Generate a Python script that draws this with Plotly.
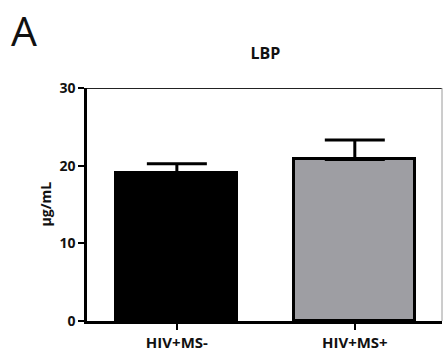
import plotly.graph_objects as go

# Group means and SEM (µg/mL)
groups = ["HIV+MS-", "HIV+MS+"]
means = [19.1, 20.8]
sem = [1.15, 2.5]
fill_colors = ["#000000", "#9e9ea3"]

y_ticks = [0, 10, 20, 30]

W, H = 443, 355
L, R, T, B = 87, 1, 88, 34
plot_w = W - L - R
plot_h = H - T - B

font_family = "Open Sans, DejaVu Sans, sans-serif"

fig = go.Figure()
fig.add_trace(go.Bar(
    x=groups,
    y=means,
    width=0.68,
    marker=dict(color=fill_colors, line=dict(color="#000000", width=3)),
    error_y=dict(type="data", symmetric=False, array=sem,
                 arrayminus=[0] * len(sem),
                 color="#000000", thickness=3, width=30),
    showlegend=False,
))

fig.update_layout(
    width=W, height=H,
    margin=dict(l=L, r=R, t=T, b=B, pad=0),
    plot_bgcolor="white", paper_bgcolor="white",
    font=dict(family=font_family, color="#111111"),
    title=dict(text="<b>LBP</b>", x=265.5 / W, xref="container", xanchor="center",
               y=1 - 53.5 / H, yref="container", yanchor="middle",
               font=dict(size=16, family=font_family, color="#111111")),
    bargap=0,
    xaxis=dict(
        type="category",
        range=[-0.505, 1.49],
        showline=True, linecolor="#000000", linewidth=2.5,
        ticks="outside", ticklen=6, tickwidth=2, tickcolor="#000000",
        tickfont=dict(size=15, family=font_family, color="#111111", weight="bold"),
        showgrid=False, zeroline=False,
    ),
    yaxis=dict(
        range=[0, 30],
        tickvals=y_ticks,
        ticktext=[str(v) for v in y_ticks],
        showline=True, linecolor="#000000", linewidth=2.5,
        ticks="outside", ticklen=6, tickwidth=2, tickcolor="#000000",
        tickfont=dict(size=14, family=font_family, color="#111111", weight="bold"),
        showgrid=False, zeroline=False,
    ),
    shapes=[
        # top frame line
        dict(type="line", xref="paper", yref="y", x0=0, x1=1, y0=30, y1=30,
             line=dict(color="#222222", width=2)),
        # right frame line
        dict(type="line", xref="paper", yref="paper", x0=1, x1=1, y0=0, y1=1,
             line=dict(color="#9a9a9a", width=1)),
    ],
    annotations=[
        dict(text="A", xref="paper", yref="paper",
             x=(9 - L) / plot_w, y=(H - B - 0) / plot_h,
             xanchor="left", yanchor="top", showarrow=False,
             font=dict(size=41, family=font_family, color="#111111")),
        dict(text="<b>µg/mL</b>", xref="paper", yref="paper",
             x=(45 - L) / plot_w, y=0.5, textangle=-90,
             xanchor="center", yanchor="middle", showarrow=False,
             font=dict(size=14, family=font_family, color="#111111")),
    ],
)

fig.write_html("out.html")
